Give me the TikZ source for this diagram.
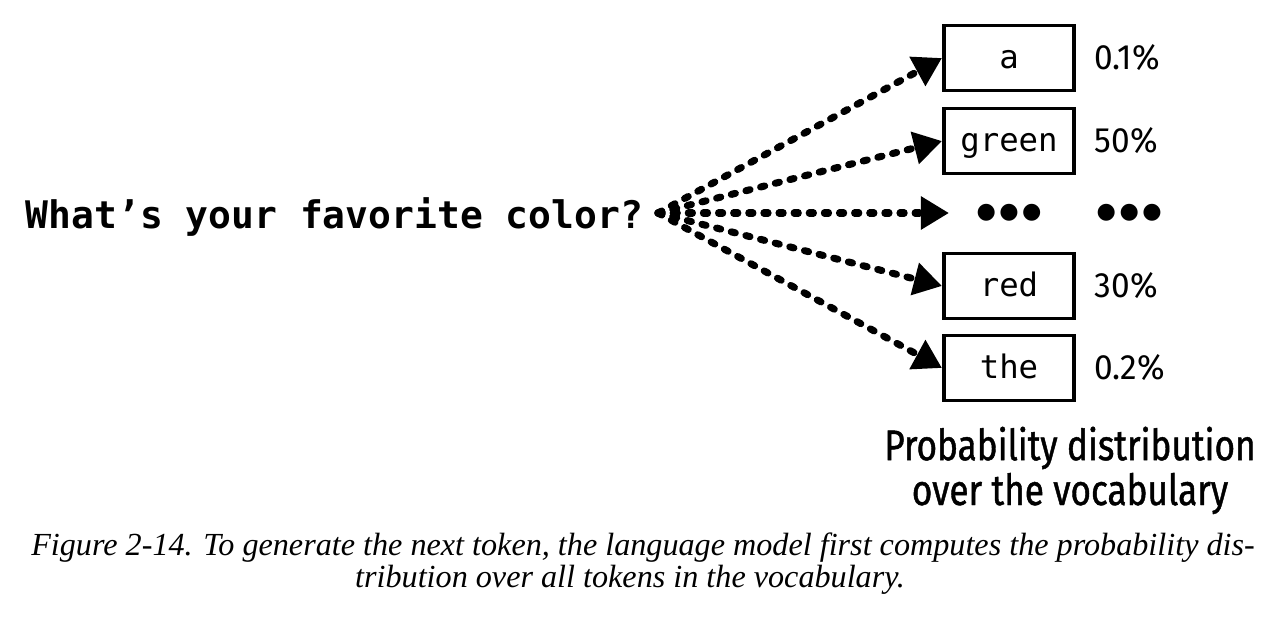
\documentclass[tikz,border=0pt]{standalone}
\usepackage{fontspec}
\setmonofont{DejaVu Sans Mono}
\newfontfamily\labelsans[FakeStretch=0.82,FakeBold=1.0]{Fira Sans}
\newfontfamily\pctsans[FakeStretch=0.95]{Fira Sans}
\newfontfamily\symfont{DejaVu Sans}
\newfontfamily\capserif{Liberation Serif}
\usetikzlibrary{arrows.meta,positioning}

\newcommand{\vocabdots}{{\symfont\fontsize{6.3}{6.5}\selectfont ●\hspace{1.0pt}●\hspace{1.0pt}●}}

\tikzset{
  tok/.style={draw, line width=1.1pt, minimum width=1.30cm, minimum height=0.65cm,
    inner sep=0pt, text height=7pt, text depth=0.8pt, font=\ttfamily\fontsize{9.2}{10}\selectfont},
  pct/.style={inner sep=0pt, font=\pctsans\fontsize{10}{12}\selectfont},
  flow/.style={line width=2pt, line cap=round, dash pattern=on 1.2pt off 3.1pt,
    -{Triangle[length=8pt,width=9pt]}},
  plab/.style={inner sep=0pt, align=center, font=\labelsans\fontsize{12.2}{10.8}\selectfont},
  capt/.style={inner sep=0pt, font=\capserif\itshape\fontsize{9.15}{10}\selectfont},
}

\begin{document}
\begin{tikzpicture}[x=0.01cm,y=-0.01cm]
  \useasboundingbox (0,0) rectangle (1288,624);

  % prompt
  \node[anchor=base west, inner sep=0pt, font=\ttfamily\bfseries\fontsize{10.8}{12}\selectfont]
    (q) at (25,228) {What’s your favorite color?};
  \coordinate (src) at (658,213);

  % vocabulary
  \node[tok] (a) at (1009,58) {a};
  \node[tok] (g) at (1009,141) {green};
  \node[tok, draw=none, text height=, text depth=] (vd) at (1009,213) {\vocabdots};
  \node[tok] (r) at (1009,286) {red};
  \node[tok] (th) at (1009,368) {the};

  \node[pct, right=0.18cm of a] (pa) {0.1\%};
  \node[pct, right=0.18cm of g] (pg) {50\%};
  \node[pct, right=0.2cm of vd] (pvd) {\vocabdots};
  \node[pct, right=0.18cm of r] (pr) {30\%};
  \node[pct, right=0.18cm of th] (pth) {0.2\%};

  \draw[flow] (src) -- (a.west);
  \draw[flow] (src) -- (g.west);
  \draw[flow] (src) -- ([xshift=0.07cm]vd.west);
  \draw[flow] (src) -- (r.west);
  \draw[flow] (src) -- (th.west);

  % label
  \node[plab, anchor=north] (pd) at (1070,426) {Probability distribution\\over the vocabulary};

  % caption
  \node[capt, anchor=base] (cap1) at (643,555) {Figure 2-14. To generate the next token, the language model first computes the probability dis-};
  \node[capt, anchor=base] (cap2) at (630,587) {tribution over all tokens in the vocabulary.};
\end{tikzpicture}
\end{document}
